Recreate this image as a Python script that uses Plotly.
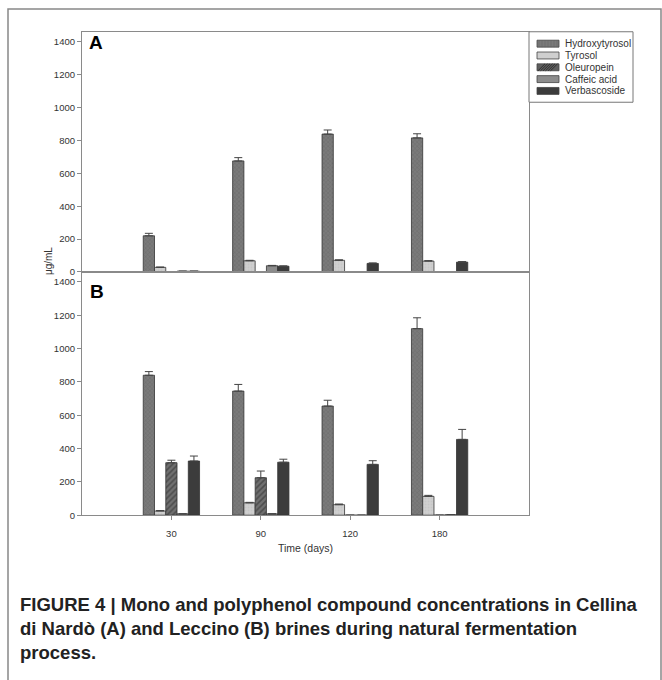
import plotly.graph_objects as go

days = ["30", "90", "120", "180"]
compounds = ["Hydroxytyrosol", "Tyrosol", "Oleuropein", "Caffeic acid", "Verbascoside"]

# Panel A (Cellina di Nardò), µg/mL
a_hydroxytyrosol = [220, 675, 838, 815]
a_hydroxytyrosol_err = [15, 20, 25, 25]
a_tyrosol = [28, 68, 71, 66]
a_tyrosol_err = [2, 3, 3, 3]
a_oleuropein = [2, 0, 2, 0]
a_oleuropein_err = [0, 0, 0, 0]
a_caffeic = [5, 38, 2, 0]
a_caffeic_err = [0, 2, 0, 0]
a_verbascoside = [5, 35, 52, 60]
a_verbascoside_err = [0, 2, 3, 3]

# Panel B (Leccino), µg/mL
b_hydroxytyrosol = [840, 745, 655, 1120]
b_hydroxytyrosol_err = [22, 40, 35, 65]
b_tyrosol = [25, 74, 63, 113]
b_tyrosol_err = [3, 3, 4, 6]
b_oleuropein = [315, 225, 0, 0]
b_oleuropein_err = [15, 40, 0, 0]
b_caffeic = [8, 8, 0, 3]
b_caffeic_err = [0, 0, 0, 0]
b_verbascoside = [325, 318, 305, 455]
b_verbascoside_err = [30, 18, 22, 60]

y_ticks = [0, 200, 400, 600, 800, 1000, 1200, 1400]

styles = {
    "Hydroxytyrosol": dict(color="#767676", pattern=dict(shape="x", bgcolor="#7a7a7a", fgcolor="#5a5a5a", size=3, solidity=0.3)),
    "Tyrosol": dict(color="#cfcfcf", pattern=dict(shape=".", bgcolor="#cfcfcf", fgcolor="#bdbdbd", size=3, solidity=0.3)),
    "Oleuropein": dict(color="#666666", pattern=dict(shape="/", bgcolor="#707070", fgcolor="#2a2a2a", size=4, solidity=0.4)),
    "Caffeic acid": dict(color="#8c8c8c", pattern=dict(shape="")),
    "Verbascoside": dict(color="#3c3c3c", pattern=dict(shape="")),
}

panel_a = [a_hydroxytyrosol, a_tyrosol, a_oleuropein, a_caffeic, a_verbascoside]
panel_a_err = [a_hydroxytyrosol_err, a_tyrosol_err, a_oleuropein_err, a_caffeic_err, a_verbascoside_err]
panel_b = [b_hydroxytyrosol, b_tyrosol, b_oleuropein, b_caffeic, b_verbascoside]
panel_b_err = [b_hydroxytyrosol_err, b_tyrosol_err, b_oleuropein_err, b_caffeic_err, b_verbascoside_err]

fig = go.Figure()

def add_panel(values, errs, xa, ya):
    for name, v, e in zip(compounds, values, errs):
        st = styles[name]
        fig.add_trace(go.Bar(
            x=days, y=v, name=name, showlegend=False,
            xaxis=xa, yaxis=ya,
            marker=dict(color=st["color"], pattern=st["pattern"],
                        line=dict(color="#333333", width=0.8)),
            error_y=dict(type="data", symmetric=False, array=e,
                         arrayminus=[0] * len(e), color="#444444",
                         thickness=1, width=4),
        ))

add_panel(panel_a, panel_a_err, "x", "y")
add_panel(panel_b, panel_b_err, "x2", "y2")

W, H = 662, 680
L, R = 82, 529
A_top, A_bot = 32, 274
B_top, B_bot = 274, 519

def px(x):
    return x / W

def py(y):
    return 1 - y / H

axis_line = dict(showline=True, linecolor="#8a8a8a", linewidth=1.2, mirror=True,
                 showgrid=False, zeroline=False)
tickfont = dict(family="Liberation Sans, Arial, sans-serif", size=9.5, color="#333333")

shapes = [
    dict(type="rect", xref="paper", yref="paper",
         x0=px(8), x1=px(661), y0=-0.05, y1=py(9),
         line=dict(color="#888888", width=1.5), fillcolor="rgba(0,0,0,0)"),
    # legend box
    dict(type="rect", xref="paper", yref="paper",
         x0=px(R), x1=px(633), y0=py(103), y1=py(A_top),
         line=dict(color="#777777", width=1), fillcolor="white"),
]
annotations = []

legend_fill = {
    "Hydroxytyrosol": "#7a7a7a",
    "Tyrosol": "#cfcfcf",
    "Oleuropein": "#5e5e5e",
    "Caffeic acid": "#8c8c8c",
    "Verbascoside": "#3c3c3c",
}
sx0, sx1 = 537, 559
for i, name in enumerate(compounds):
    cy = 44 + 11.9 * i
    y0, y1 = cy - 3.5, cy + 3.5
    shapes.append(dict(type="rect", xref="paper", yref="paper",
                       x0=px(sx0), x1=px(sx1), y0=py(y1), y1=py(y0),
                       line=dict(color="#444444", width=0.8),
                       fillcolor=legend_fill[name]))
    if name == "Oleuropein":
        h = y1 - y0
        xs = sx0 + 1
        while xs + h <= sx1:
            shapes.append(dict(type="line", xref="paper", yref="paper",
                               x0=px(xs), y0=py(y1), x1=px(xs + h), y1=py(y0),
                               line=dict(color="#222222", width=0.8)))
            xs += 2.5
    if name == "Hydroxytyrosol":
        for xs in range(sx0 + 2, sx1 - 1, 3):
            shapes.append(dict(type="line", xref="paper", yref="paper",
                               x0=px(xs), y0=py(y0), x1=px(xs), y1=py(y1),
                               line=dict(color="#666666", width=0.5)))
    annotations.append(dict(text=name, x=px(563), y=py(cy), xref="paper", yref="paper",
                            xanchor="left", yanchor="middle", showarrow=False,
                            font=dict(size=10, color="#333333",
                                      family="Liberation Sans, Arial, sans-serif")))

annotations += [
    dict(text="A", x=px(87), y=py(43), xref="paper", yref="paper",
         xanchor="left", yanchor="middle", showarrow=False,
         font=dict(size=19, color="black", family="Liberation Sans, Arial, sans-serif", weight="bold")),
    dict(text="B", x=px(88), y=py(294), xref="paper", yref="paper",
         xanchor="left", yanchor="middle", showarrow=False,
         font=dict(size=19, color="black", family="Liberation Sans, Arial, sans-serif", weight="bold")),
    dict(text="μg/mL", x=px(48), y=py(263), xref="paper", yref="paper",
         xanchor="center", yanchor="middle", showarrow=False, textangle=-90,
         font=dict(size=10, color="#333333")),
    dict(text="FIGURE 4 | Mono and polyphenol compound concentrations in Cellina<br>"
              "di Nardò (A) and Leccino (B) brines during natural fermentation<br>"
              "process.",
         x=px(18), y=py(596), xref="paper", yref="paper",
         xanchor="left", yanchor="top", align="left", showarrow=False,
         font=dict(size=18.5, color="#222222",
                   family="Liberation Sans, Arial, sans-serif", weight="bold")),
]

fig.update_layout(
    width=W, height=H,
    margin=dict(l=0, r=0, t=0, b=0),
    paper_bgcolor="white", plot_bgcolor="white",
    barmode="group", bargap=0.37, bargroupgap=0,
    showlegend=False,
    font=dict(family="Liberation Sans, Arial, sans-serif", color="#333333"),
    xaxis=dict(domain=[px(L), px(R)], type="category", range=[-1, 4],
               anchor="y", showticklabels=False, ticks="", **axis_line),
    yaxis=dict(domain=[py(A_bot), py(A_top)], range=[0, 1460],
               tickvals=y_ticks, ticks="outside", ticklen=4, tickcolor="#8a8a8a",
               tickfont=tickfont, anchor="x", **axis_line),
    xaxis2=dict(domain=[px(L), px(R)], type="category", range=[-1, 4],
                anchor="y2", ticks="outside", ticklen=4, tickcolor="#8a8a8a",
                tickfont=tickfont, ticklabelstandoff=5,
                title=dict(text="Time (days)", font=dict(size=10.5, color="#333333"), standoff=6),
                **axis_line),
    yaxis2=dict(domain=[py(B_bot), py(B_top)], range=[0, 1460],
                tickvals=y_ticks, ticks="outside", ticklen=4, tickcolor="#8a8a8a",
                tickfont=tickfont, anchor="x2", **axis_line),
    shapes=shapes,
    annotations=annotations,
)

fig.write_html("out.html")
